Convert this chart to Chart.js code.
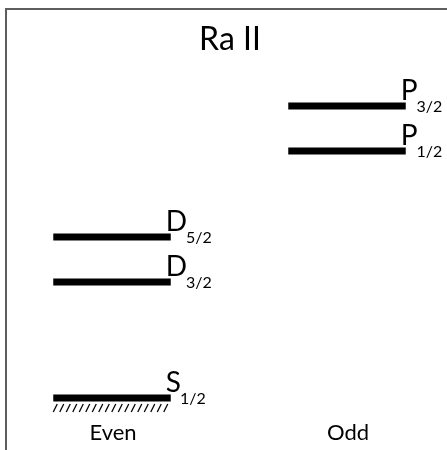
<!DOCTYPE html>
<html>
<head>
<meta charset="utf-8">
<script src="https://cdn.jsdelivr.net/npm/chart.js@4.4.1/dist/chart.umd.min.js"></script>
<style>
  html, body { margin: 0; padding: 0; background: #fff; }
  canvas { display: block; }
</style>
</head>
<body>
<canvas id="myChart" width="447" height="450"></canvas>
<script>
// Ra II level scheme (schematic heights, arbitrary units)
var parities = ['Even', 'Odd'];
var levelLetters = ['S', 'D', 'D', 'P', 'P'];
var levelJ = ['1/2', '3/2', '5/2', '1/2', '3/2'];
var levelParity = [0, 0, 0, 1, 1];
var levelEnergy = [0, 116, 161, 247, 292];
var titleText = 'Ra II';

var halfWidth = 0.25;

var datasets = [];
for (var i = 0; i < levelEnergy.length; i++) {
    datasets.push({
        label: levelLetters[i] + levelJ[i],
        data: [
            { x: levelParity[i] - halfWidth, y: levelEnergy[i] },
            { x: levelParity[i] + halfWidth, y: levelEnergy[i] }
        ],
        borderColor: '#000',
        borderWidth: 7,
        borderCapStyle: 'butt',
        pointRadius: 0,
        fill: false
    });
}

var levelPlugin = {
    id: 'levels',
    beforeDraw: function (c) {
        var ctx = c.ctx;
        ctx.save();
        ctx.fillStyle = '#fff';
        ctx.fillRect(0, 0, c.width, c.height);
        // frame (top and left)
        ctx.strokeStyle = '#5e5e5e';
        ctx.lineWidth = 2;
        ctx.beginPath();
        ctx.moveTo(6, c.height);
        ctx.lineTo(6, 9);
        ctx.lineTo(c.width, 9);
        ctx.stroke();
        ctx.restore();
    },
    afterDatasetsDraw: function (c) {
        var ctx = c.ctx;
        var xs = c.scales.x, ys = c.scales.y;
        ctx.save();
        ctx.fillStyle = '#000';
        ctx.textBaseline = 'alphabetic';

        // title
        ctx.font = '32px Lato';
        ctx.textAlign = 'center';
        ctx.fillText(titleText, 230, 50);

        // parity labels
        ctx.font = '22px Lato';
        for (var p = 0; p < parities.length; p++) {
            ctx.fillText(parities[p], xs.getPixelForValue(p) + 1, 440);
        }

        // level labels
        ctx.textAlign = 'left';
        for (var i = 0; i < levelEnergy.length; i++) {
            var xEnd = xs.getPixelForValue(levelParity[i] + halfWidth);
            var y = ys.getPixelForValue(levelEnergy[i]);
            ctx.font = '28px Lato';
            ctx.fillText(levelLetters[i], xEnd - 5, y - 6);
            var w = ctx.measureText(levelLetters[i]).width;
            ctx.font = '16px Lato';
            ctx.fillText(levelJ[i], xEnd - 5 + w - 1, y + 6);
        }

        // hatching under the ground state
        var x0 = xs.getPixelForValue(levelParity[0] - halfWidth);
        var x1 = xs.getPixelForValue(levelParity[0] + halfWidth);
        var yg = ys.getPixelForValue(levelEnergy[0]);
        ctx.strokeStyle = '#000';
        ctx.lineWidth = 1.3;
        ctx.beginPath();
        for (var hx = x0; hx < x1 - 2; hx += 6.5) {
            ctx.moveTo(hx, yg + 14);
            ctx.lineTo(hx + 4, yg + 6);
        }
        ctx.stroke();
        ctx.restore();
    }
};

var chart = new Chart(document.getElementById('myChart').getContext('2d'), {
    type: 'line',
    data: { datasets: datasets },
    options: {
        responsive: false,
        animation: false,
        devicePixelRatio: 1,
        layout: { padding: { left: 6, top: 8, right: 0, bottom: 0 } },
        plugins: {
            legend: { display: false },
            tooltip: { enabled: false },
            title: { display: false }
        },
        scales: {
            x: { type: 'linear', display: false, min: -0.4511, max: 1.4255 },
            y: { type: 'linear', display: false, min: -52, max: 390 }
        }
    },
    plugins: [levelPlugin]
});
</script>
</body>
</html>
